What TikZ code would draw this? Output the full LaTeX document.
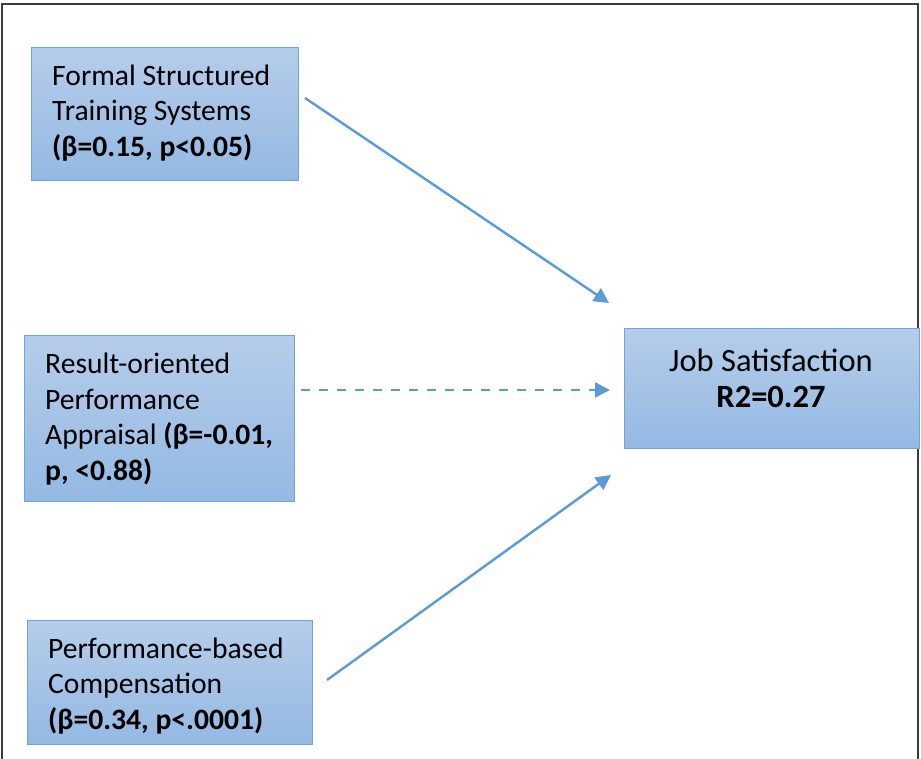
\documentclass[tikz,border=0pt]{standalone}
\usepackage{fontspec}
\setmainfont{Carlito}
\usetikzlibrary{arrows.meta}
\definecolor{boxtop}{RGB}{181,205,234}
\definecolor{boxbot}{RGB}{148,185,227}
\definecolor{boxline}{RGB}{112,163,218}
\definecolor{arrowc}{RGB}{91,155,213}
\definecolor{framec}{RGB}{60,60,60}
\tikzset{
  varbox/.style={rectangle, draw=boxline, line width=1.3pt, top color=boxtop, bottom color=boxbot,
    anchor=north west, inner xsep=0pt, inner ysep=0pt},
  vartext/.style={anchor=west, align=left, inner sep=0pt, font=\fontsize{29.6}{35.5}\selectfont},
  link/.style={draw=arrowc, line width=2.4pt, -{Triangle[length=15pt,width=15pt]}},
  dashlink/.style={link, dash pattern=on 9pt off 9pt},
}
\begin{document}
\begin{tikzpicture}[x=1pt,y=-1pt]
\useasboundingbox (0,0) rectangle (921,758);
\draw[framec, line width=2pt] (1.5,760) -- (1.5,3.5) -- (918,3.5) -- (918,760);

% boxes
\node[varbox, minimum width=267pt, minimum height=133pt] (fst) at (31,47) {};
\node[vartext] (fsttext) at (52,113)
  {Formal Structured\\Training Systems\\\textbf{(β=0.15, p<0.05)}};

\node[varbox, minimum width=270pt, minimum height=166pt] (rpa) at (24,335) {};
\node[vartext] (rpatext) at (45,419)
  {Result-oriented\\Performance\\Appraisal \textbf{(β=-0.01,}\\\textbf{p, <0.88)}};

\node[varbox, minimum width=285pt, minimum height=124pt] (pbc) at (27,620) {};
\node[vartext] (pbctext) at (48,686)
  {Performance-based\\Compensation\\\textbf{(β=0.34, p<.0001)}};

\node[varbox, minimum width=295pt, minimum height=120pt] (js) at (624,328) {};
\node[align=center, font=\fontsize{32.5}{36}\selectfont, inner sep=0pt] (jstext) at (771,378)
  {Job Satisfaction\\\textbf{R2=0.27}};

% arrow end points
\coordinate (a1s) at (305,98);
\coordinate (a1e) at (609,303);
\coordinate (a2s) at (301,390);
\coordinate (a2e) at (610,390);
\coordinate (a3s) at (327,680);
\coordinate (a3e) at (611,475);

\draw[link] (a1s) -- (a1e);
\draw[dashlink] (a2s) -- (a2e);
\draw[link] (a3s) -- (a3e);
\end{tikzpicture}
\end{document}
